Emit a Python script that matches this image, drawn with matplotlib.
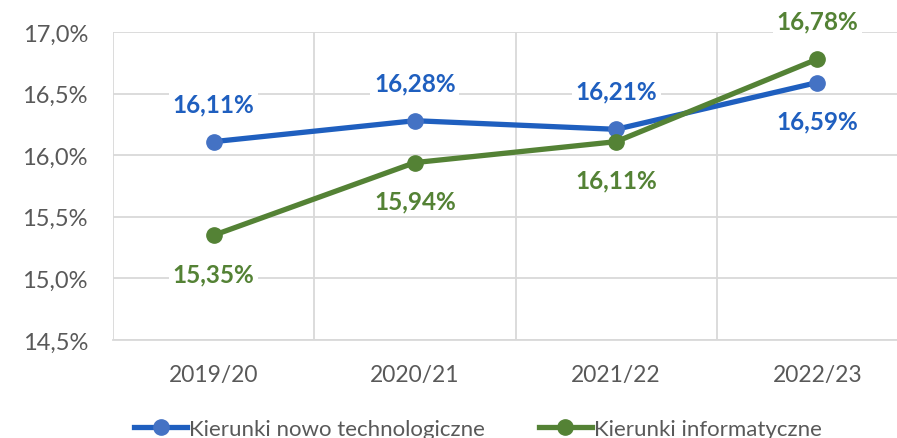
import numpy as np
import matplotlib.pyplot as plt
from matplotlib.ticker import FuncFormatter, MultipleLocator

# ____________________________________________________________
# data

years = ['2019/20', '2020/21', '2021/22', '2022/23']
nowo_tech = [16.11, 16.28, 16.21, 16.59]
informatyczne = [15.35, 15.94, 16.11, 16.78]
series_names = ['Kierunki nowo technologiczne', 'Kierunki informatyczne']

# label placement: +1 above the point, -1 below
nowo_pos = [1, 1, 1, -1]
info_pos = [-1, -1, -1, 1]

# ____________________________________________________________
# plot

plt.rcParams['font.family'] = ['Lato', 'DejaVu Sans']

fig = plt.figure(figsize=(8.97, 4.39), dpi=100)
ax = fig.add_axes([113 / 897, 98 / 439, 805 / 897, 308 / 439])

x = np.arange(len(years))
blue_line, blue_mark = '#1F5FBF', '#4472C4'
green_line, green_mark = '#548235', '#548235'

ax.plot(x, nowo_tech, color=blue_line, lw=3.8, marker='o', ms=11,
        mfc=blue_mark, mec=blue_mark, label=series_names[0], zorder=3)
ax.plot(x, informatyczne, color=green_line, lw=3.8, marker='o', ms=11,
        mfc=green_mark, mec=green_mark, label=series_names[1], zorder=3)

def label(vals, pos, color):
    for xi, v, p in zip(x, vals, pos):
        txt = ('%.2f%%' % v).replace('.', ',')
        ax.annotate(txt, (xi, v), xytext=(0, 27.5 * p), textcoords='offset points',
                    ha='center', va='center', fontsize=17.5, fontweight='bold', color=color,
                    bbox=dict(boxstyle='square,pad=0.15', fc='white', ec='none'), zorder=4)

label(nowo_tech, nowo_pos, blue_line)
label(informatyczne, info_pos, green_line)

ax.set_xlim(-0.5, len(years) - 0.5)
ax.set_ylim(14.5, 17.0)
ax.yaxis.set_major_locator(MultipleLocator(0.5))
ax.yaxis.set_major_formatter(FuncFormatter(lambda v, _: ('%.1f%%' % v).replace('.', ',')))
ax.set_xticks(x)
ax.set_xticklabels(years)
ax.set_xticks(np.arange(-0.5, len(years)), minor=True)

ax.grid(True, which='major', axis='y', color='#D9D9D9', lw=1.3)
ax.grid(True, which='minor', axis='x', color='#D9D9D9', lw=1.3)
for s in ax.spines.values():
    s.set_visible(False)
ax.axhline(14.5, color='#D9D9D9', lw=1.3, clip_on=False)

ax.tick_params(axis='y', which='both', length=0, labelsize=17, labelcolor='#595959', pad=18)
ax.tick_params(axis='x', which='both', length=0, labelsize=16.4, labelcolor='#595959', pad=17)

fig.legend(loc='center', bbox_to_anchor=(478 / 897, 1 - 430 / 439), ncol=2, frameon=False,
           fontsize=16, labelcolor='#595959', handlelength=2.4, handletextpad=0.1,
           columnspacing=2.4)

fig.savefig('out.png', dpi=100)
